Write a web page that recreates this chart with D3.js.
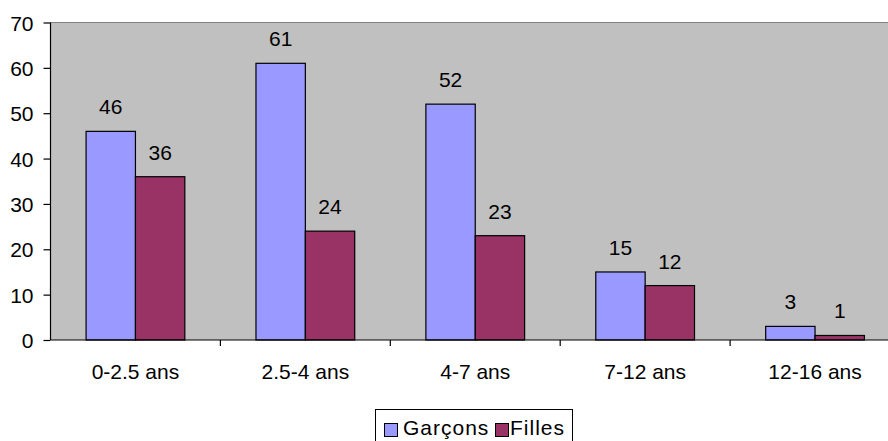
<!DOCTYPE html>
<html>
<head>
<meta charset="utf-8">
<script src="https://cdn.jsdelivr.net/npm/d3@7"></script>
<style>
  html, body { margin: 0; padding: 0; background: #ffffff; }
  svg { display: block; font-family: "Liberation Sans", Arial, sans-serif; }
</style>
</head>
<body>
<svg id="chart" width="888" height="441"></svg>
<script>
// Age groups and counts per group
const categories = ["0-2.5 ans", "2.5-4 ans", "4-7 ans", "7-12 ans", "12-16 ans"];
const seriesNames = ["Garçons", "Filles"];
const garcons = [46, 61, 52, 15, 3];
const filles = [36, 24, 23, 12, 1];
const yTicks = [0, 10, 20, 30, 40, 50, 60, 70];
const seriesColors = ["#9999FF", "#993366"];

const seriesValues = [garcons, filles];
const rows = categories.map((c, i) => ({
  category: c,
  values: seriesNames.map((s, j) => ({ series: s, value: seriesValues[j][i], color: seriesColors[j] }))
}));

const svg = d3.select("#chart");
const plot = { left: 50.5, top: 22.5, right: 900, bottom: 340 };
const fontSize = 21;

const x = d3.scaleBand()
  .domain(categories)
  .range([plot.left, plot.right])
  .paddingInner(0)
  .paddingOuter(0);

const bw = x.bandwidth();
const sideGap = bw * 35.6 / 170;
const x1 = d3.scaleBand()
  .domain(seriesNames)
  .range([sideGap, bw - sideGap])
  .padding(0);

const y = d3.scaleLinear()
  .domain([0, 70])
  .range([plot.bottom, plot.top]);

// plot area background
svg.append("rect")
  .attr("x", plot.left)
  .attr("y", plot.top)
  .attr("width", plot.right - plot.left)
  .attr("height", plot.bottom - plot.top)
  .attr("fill", "#C0C0C0");

// top border of the plot area
svg.append("line")
  .attr("x1", plot.left).attr("x2", plot.right)
  .attr("y1", plot.top).attr("y2", plot.top)
  .attr("stroke", "#808080")
  .attr("stroke-width", 1.2);

// bars
const groups = svg.append("g").selectAll("g")
  .data(rows)
  .join("g")
  .attr("transform", d => `translate(${x(d.category)},0)`);

groups.selectAll("rect")
  .data(d => d.values)
  .join("rect")
  .attr("x", d => x1(d.series))
  .attr("y", d => y(d.value))
  .attr("width", x1.bandwidth())
  .attr("height", d => y(0) - y(d.value))
  .attr("fill", d => d.color)
  .attr("stroke", "#000000")
  .attr("stroke-width", 1.2);

// value labels above each bar
groups.selectAll("text")
  .data(d => d.values)
  .join("text")
  .attr("x", d => x1(d.series) + x1.bandwidth() / 2)
  .attr("y", d => y(d.value) - 17)
  .attr("text-anchor", "middle")
  .attr("font-size", fontSize)
  .attr("fill", "#000000")
  .text(d => d.value);

// y axis
const yAxis = d3.axisLeft(y)
  .tickValues(yTicks)
  .tickSize(7)
  .tickPadding(10)
  .tickFormat(d3.format("d"));

const gy = svg.append("g")
  .attr("transform", `translate(${plot.left},0)`)
  .call(yAxis);
gy.select(".domain").attr("stroke", "#000000").attr("stroke-width", 1.2)
  .attr("d", `M0,${plot.top}V${plot.bottom}`);
gy.selectAll(".tick line").attr("stroke", "#000000").attr("stroke-width", 1.2);
gy.selectAll(".tick text")
  .attr("font-size", fontSize)
  .attr("font-family", "Liberation Sans, Arial, sans-serif")
  .attr("fill", "#000000")
  .attr("dy", "0.36em");

// x axis with ticks between categories
const xAxis = d3.axisBottom(x).tickSize(0).tickPadding(24);
const gx = svg.append("g")
  .attr("transform", `translate(0,${plot.bottom})`)
  .call(xAxis);
gx.select(".domain").attr("stroke", "#000000").attr("stroke-width", 1.2)
  .attr("d", `M${plot.left},0H${plot.right}`);
gx.selectAll(".tick text")
  .attr("font-size", fontSize)
  .attr("font-family", "Liberation Sans, Arial, sans-serif")
  .attr("fill", "#000000")
  .attr("dy", "0.71em");

svg.append("g").selectAll("line")
  .data(categories.slice(1))
  .join("line")
  .attr("x1", d => x(d)).attr("x2", d => x(d))
  .attr("y1", plot.bottom).attr("y2", plot.bottom + 6)
  .attr("stroke", "#000000")
  .attr("stroke-width", 1.2);

// legend
const legend = svg.append("g");
legend.append("rect")
  .attr("x", 375.5).attr("y", 409.5)
  .attr("width", 197).attr("height", 40)
  .attr("fill", "#ffffff")
  .attr("stroke", "#000000")
  .attr("stroke-width", 1);

const legendItems = [
  { name: seriesNames[0], color: seriesColors[0], sx: 384.5, tx: 403 },
  { name: seriesNames[1], color: seriesColors[1], sx: 495.5, tx: 510 }
];
const li = legend.selectAll("g.item")
  .data(legendItems)
  .join("g")
  .attr("class", "item");
li.append("rect")
  .attr("x", d => d.sx).attr("y", 423.5)
  .attr("width", 13).attr("height", 13)
  .attr("fill", d => d.color)
  .attr("stroke", "#000000")
  .attr("stroke-width", 1);
li.append("text")
  .attr("x", d => d.tx).attr("y", 435)
  .attr("font-size", fontSize)
  .attr("letter-spacing", 1)
  .attr("fill", "#000000")
  .text(d => d.name);
</script>
</body>
</html>
